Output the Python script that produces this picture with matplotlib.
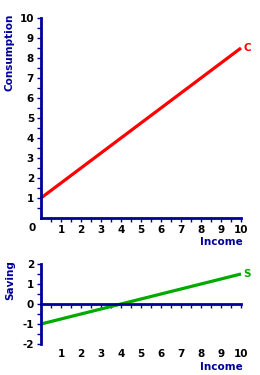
import matplotlib
matplotlib.use("Agg")
from matplotlib import pyplot as plt
import numpy as np

income = [0, 10]
consumption = [1, 8.5]
saving = [-1, 1.5]
x_ticks = [1, 2, 3, 4, 5, 6, 7, 8, 9, 10]
top_y_ticks = [1, 2, 3, 4, 5, 6, 7, 8, 9, 10]
bot_y_ticks = [-2, -1, 0, 1, 2]

navy = '#000099'
fs = 7.5
bold = dict(fontsize=fs, fontweight='bold', color='black')

fig = plt.figure(figsize=(2.6, 3.75), dpi=100)

# consumption panel
ax = fig.add_axes([41/260., 1 - 218/375., 200/260., 200/375.])
ax.plot(income, consumption, color='#ff0000', lw=2.3, solid_capstyle='butt', clip_on=False)
ax.text(10.1, consumption[1], 'C', color='#ff0000', fontsize=fs, fontweight='bold', va='center', ha='left')
ax.set_xlim(0, 10)
ax.set_ylim(0, 10)
for s in ['top', 'right']:
    ax.spines[s].set_visible(False)
for s in ['left', 'bottom']:
    ax.spines[s].set_color(navy)
    ax.spines[s].set_linewidth(2)
ax.set_xticks(x_ticks)
ax.set_yticks(top_y_ticks)
ax.set_xticks(np.arange(0.5, 10.5, 1), minor=True)
ax.set_yticks(np.arange(0.5, 10.5, 1), minor=True)
ax.tick_params(which='both', direction='out', length=3, width=1, color=navy, pad=2)
ax.set_xticklabels([str(v) for v in x_ticks], **bold)
ax.set_yticklabels([str(v) for v in top_y_ticks], **bold)
ax.text(-0.45, -0.5, '0', ha='center', va='center', **bold)
ax.text(-1.55, 8.3, 'Consumption', rotation=90, ha='center', va='center',
        fontsize=fs, fontweight='bold', color=navy)
ax.text(10.1, -1.2, 'Income', ha='right', va='center', fontsize=fs, fontweight='bold', color=navy)

# saving panel
ax2 = fig.add_axes([41/260., 1 - 344/375., 200/260., 80/375.])
ax2.plot(income, saving, color='#00aa00', lw=2.3, solid_capstyle='butt', clip_on=False)
ax2.text(10.1, saving[1], 'S', color='#00aa00', fontsize=fs, fontweight='bold', va='center', ha='left')
ax2.set_xlim(0, 10)
ax2.set_ylim(-2, 2)
for s in ['top', 'right']:
    ax2.spines[s].set_visible(False)
ax2.spines['bottom'].set_position(('data', 0))
for s in ['left', 'bottom']:
    ax2.spines[s].set_color(navy)
    ax2.spines[s].set_linewidth(2)
ax2.set_xticks(x_ticks)
ax2.set_xticks(np.arange(0.5, 10.5, 1), minor=True)
ax2.set_yticks(bot_y_ticks)
ax2.set_yticks(np.arange(-1.5, 2.0, 1), minor=True)
ax2.tick_params(which='both', direction='out', length=3, width=1, color=navy, pad=2)
ax2.set_xticklabels([])
ax2.set_yticklabels([str(v) for v in bot_y_ticks], **bold)
for v in x_ticks:
    ax2.text(v, -2.5, str(v), ha='center', va='center', **bold)
ax2.text(-1.55, 1.2, 'Saving', rotation=90, ha='center', va='center',
         fontsize=fs, fontweight='bold', color=navy)
ax2.text(10.1, -3.15, 'Income', ha='right', va='center', fontsize=fs, fontweight='bold', color=navy)

fig.savefig("out.png", dpi=100)
